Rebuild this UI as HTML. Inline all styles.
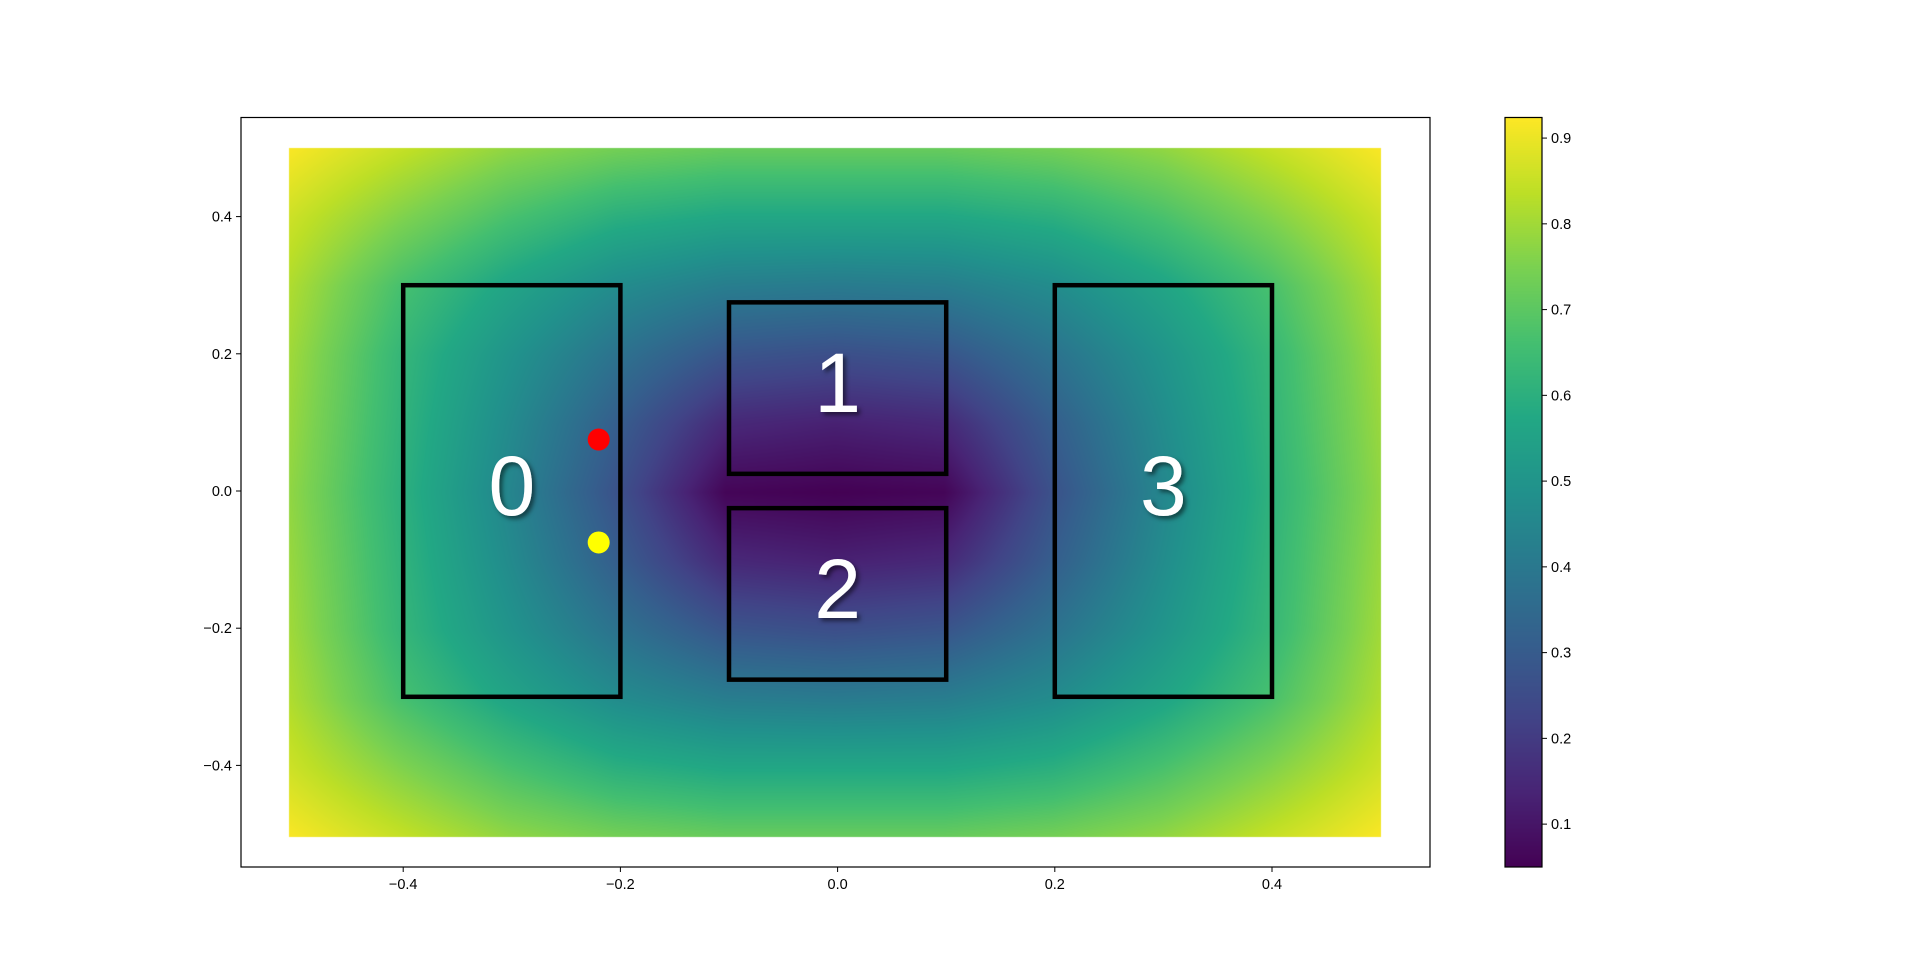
<!DOCTYPE html>
<html><head><meta charset="utf-8"><style>
body{margin:0;background:#fff;width:1920px;height:974px;overflow:hidden;font-family:"Liberation Sans",sans-serif;}
#heat{position:absolute;left:0;top:0;}
#ov{position:absolute;left:0;top:0;}
</style></head><body>
<canvas id="heat" width="1920" height="974"></canvas>
<svg id="ov" width="1920" height="974"></svg>
<script>
const xCoords=[-0.5,-0.4,-0.3,-0.2,-0.1,0,0.1,0.2,0.3,0.4,0.5];
const yCoords=[0.5,0.4,0.3,0.2,0.1,0,-0.1,-0.2,-0.3,-0.4,-0.5];
const row05=[0.92,0.85,0.78,0.74,0.72,0.72,0.72,0.74,0.78,0.85,0.92];
const row04=[0.86,0.76,0.67,0.60,0.57,0.57,0.57,0.60,0.67,0.76,0.86];
const row03=[0.82,0.67,0.56,0.47,0.42,0.41,0.42,0.47,0.56,0.67,0.82];
const row02=[0.80,0.63,0.50,0.38,0.28,0.26,0.28,0.38,0.50,0.63,0.80];
const row01=[0.79,0.62,0.47,0.31,0.15,0.13,0.15,0.31,0.47,0.62,0.79];
const row00=[0.78,0.61,0.45,0.27,0.06,0.05,0.06,0.27,0.45,0.61,0.78];
const gridValues=[row05,row04,row03,row02,row01,row00,row01,row02,row03,row04,row05];
const xTicks=[-0.4,-0.2,0.0,0.2,0.4];
const yTicks=[0.4,0.2,0.0,-0.2,-0.4];
const cbTicks=[0.1,0.2,0.3,0.4,0.5,0.6,0.7,0.8,0.9];
const rectLabels=["0","1","2","3"];
const rectX0=[-0.4,-0.1,-0.1,0.2];
const rectX1=[-0.2,0.1,0.1,0.4];
const rectY0=[-0.3,0.025,-0.275,-0.3];
const rectY1=[0.3,0.275,-0.025,0.3];
const dotX=[-0.22,-0.22];
const dotY=[0.075,-0.075];
const dotColor=["#ff0000","#ffff00"];
const vmin=0.05,vmax=0.924;

const AX={l:241,r:1430,t:117.5,b:867};
const X=v=>837.6+v*1086;
const Y=v=>491-v*686;
const CB={l:1505,r:1542,t:117.5,b:867};
const CY=v=>CB.b-(v-vmin)/(vmax-vmin)*(CB.b-CB.t);

const vir=[[68,1,84],[72,36,117],[65,68,135],[53,95,141],[42,120,142],[33,145,140],[34,168,132],[68,191,112],[122,209,81],[189,223,38],[253,231,37]];
function cmap(t){t=Math.max(0,Math.min(1,t));const f=t*10,i=Math.min(9,Math.floor(f)),u=f-i;
 return vir[i].map((c,k)=>Math.round(c+(vir[i+1][k]-c)*u));}

const ctx=document.getElementById('heat').getContext('2d');
const px0=Math.round(X(-0.505)),px1=Math.round(X(0.5)),py0=Math.round(Y(0.5)),py1=Math.round(Y(-0.505));
const img=ctx.createImageData(px1-px0,py1-py0);
for(let py=py0;py<py1;py++){
 const yv=0.5-(py-py0+0.5)/(py1-py0);
 const fy=(0.5-yv)/0.1;const j=Math.min(9,Math.floor(fy)),v=fy-j;
 for(let px=px0;px<px1;px++){
  const xv=-0.5+(px-px0+0.5)/(px1-px0);
  const fx=(xv+0.5)/0.1;const i=Math.min(9,Math.floor(fx)),u=fx-i;
  const g=gridValues;
  const val=(g[j][i]*(1-u)+g[j][i+1]*u)*(1-v)+(g[j+1][i]*(1-u)+g[j+1][i+1]*u)*v;
  const c=cmap((val-vmin)/(vmax-vmin));
  const o=((py-py0)*(px1-px0)+(px-px0))*4;
  img.data[o]=c[0];img.data[o+1]=c[1];img.data[o+2]=c[2];img.data[o+3]=255;
 }
}
ctx.putImageData(img,px0,py0);
for(let py=Math.floor(CB.t);py<CB.b;py++){
 const t=(CB.b-py)/(CB.b-CB.t);const c=cmap(t);
 ctx.fillStyle=`rgb(${c[0]},${c[1]},${c[2]})`;ctx.fillRect(CB.l,py,CB.r-CB.l,1);
}

const svg=document.getElementById('ov');const NS='http://www.w3.org/2000/svg';
function mk(tag,attrs,parent){const e=document.createElementNS(NS,tag);for(const k in attrs)e.setAttribute(k,attrs[k]);(parent||svg).appendChild(e);return e;}
const defs=mk('defs',{});
const flt=mk('filter',{id:'sh',x:'-20%',y:'-20%',width:'160%',height:'160%'},defs);
mk('feDropShadow',{dx:'3',dy:'3',stdDeviation:'2','flood-color':'#000','flood-opacity':'0.5'},flt);

rectLabels.forEach((lab,k)=>{
 const r=mk('rect',{x:X(rectX0[k]),y:Y(rectY1[k]),width:X(rectX1[k])-X(rectX0[k]),height:Y(rectY0[k])-Y(rectY1[k]),fill:'none',stroke:'#000','stroke-width':4.5});
 
 
 const t=mk('text',{x:X((rectX0[k]+rectX1[k])/2),y:Y((rectY0[k]+rectY1[k])/2)+24,'text-anchor':'middle','font-size':84,fill:'#fff',filter:'url(#sh)','font-family':'Liberation Sans, sans-serif'});
 t.textContent=lab;
 
 
});
dotX.forEach((dx,k)=>{
 const c=mk('circle',{cx:X(dx),cy:Y(dotY[k]),r:11,fill:dotColor[k]});
 
 
});
const frame=mk('rect',{x:AX.l,y:AX.t,width:AX.r-AX.l,height:AX.b-AX.t,fill:'none',stroke:'#000','stroke-width':1.2});


xTicks.forEach(v=>{
 mk('line',{x1:X(v),x2:X(v),y1:AX.b,y2:AX.b+5,stroke:'#000','stroke-width':1});
 const t=mk('text',{x:X(v),y:AX.b+22,'text-anchor':'middle','font-size':14.5,fill:'#000'});
 t.textContent=(v<0?'\u2212':'')+Math.abs(v).toFixed(1);
 
 
});
yTicks.forEach(v=>{
 mk('line',{x1:AX.l-5,x2:AX.l,y1:Y(v),y2:Y(v),stroke:'#000','stroke-width':1});
 const t=mk('text',{x:AX.l-9,y:Y(v)+5,'text-anchor':'end','font-size':14.5,fill:'#000'});
 t.textContent=(v<0?'\u2212':'')+Math.abs(v).toFixed(1);
 
 
});
const cbf=mk('rect',{x:CB.l,y:CB.t,width:CB.r-CB.l,height:CB.b-CB.t,fill:'none',stroke:'#000','stroke-width':1.2});


cbTicks.forEach(v=>{
 mk('line',{x1:CB.r,x2:CB.r+5,y1:CY(v),y2:CY(v),stroke:'#000','stroke-width':1});
 const t=mk('text',{x:CB.r+9,y:CY(v)+5,'font-size':14.5,fill:'#000'});
 t.textContent=v.toFixed(1);
 
 
});
</script>
</body></html>
